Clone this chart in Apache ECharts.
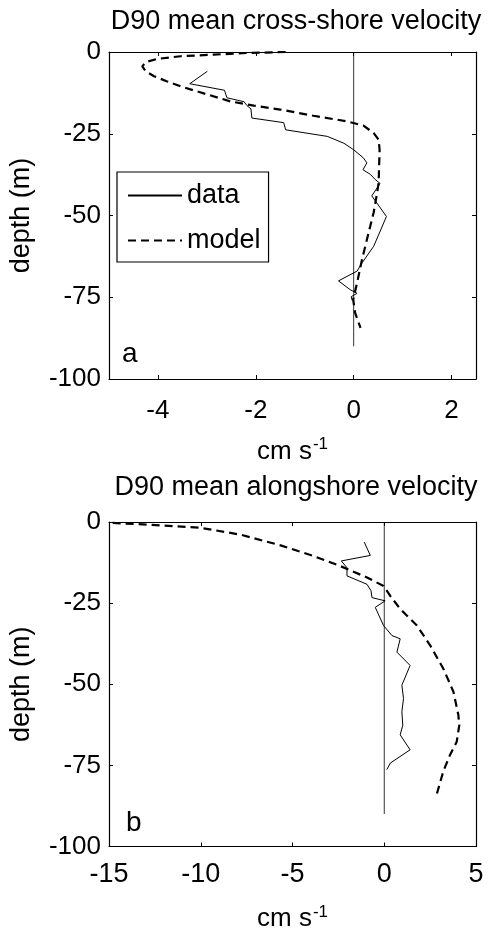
<!DOCTYPE html>
<html>
<head>
<meta charset="utf-8">
<script src="https://cdn.jsdelivr.net/npm/echarts@6/dist/echarts.min.js"></script>
<style>
html,body{margin:0;padding:0;background:#fff;}
#c{width:489px;height:933px;}
</style>
</head>
<body>
<div id="c"></div>
<script>
// ---- Panel a: cross-shore velocity ----
var crossDataVel   = [-2.99,-3.35,-2.64,-2.59,-2.24,-2.18,-2.1,-2.08,-1.43,-1.39,-0.54,-0.2,0,0.2,0.27,0.19,0.34,0.44,0.54,0.37,0.67,0.41,0.17,0.07,-0.31,-0.07,0.07,-0.05,-0.03];
var crossDataDepth = [-5.9,-9.7,-11.7,-14,-15.2,-16.4,-17.4,-20.2,-21.6,-23.8,-25.8,-27.9,-29.9,-32.4,-33.9,-36,-37.4,-39,-40.2,-44,-50.3,-59.4,-64.5,-67,-70,-72.7,-73.8,-74.8,-76];
var crossModelVel   = [-1.39,-2.18,-2.86,-3.54,-4.01,-4.25,-4.32,-4.25,-4.08,-3.81,-3.54,-2.99,-2.52,-2.04,-1.5,-0.82,-0.14,0.2,0.41,0.51,0.53,0.51,0.48,0.41,0.31,0.17,0.07,-0.01,0.03,0.14];
var crossModelDepth = [0,-0.3,-0.8,-1.3,-2.1,-3.1,-4.4,-5.9,-7.4,-9.0,-10.5,-13,-15.1,-16.4,-17.6,-19.5,-21.2,-22.5,-24.8,-26.8,-29.9,-40,-43,-49,-55,-63.5,-70.6,-75.7,-79.8,-84.4];

// ---- Panel b: alongshore velocity ----
var alongDataVel   = [-1.09,-0.76,-2.34,-2.03,-2.03,-0.94,-0.72,-0.67,0.05,-0.49,-0.04,0.42,0.87,0.69,1.41,0.96,1.05,0.96,1.01,0.87,1.41,0.33,0.14];
var alongDataDepth = [-6.2,-10.3,-12,-14.1,-16.6,-19.2,-21.2,-23.3,-24.3,-26.3,-31.9,-35,-36,-40.1,-44.2,-50.3,-54.4,-58.5,-62.6,-65.6,-70.2,-74.3,-76.3];
var alongModelVel   = [-14.8,-12.9,-10,-7.83,-5.65,-3.84,-2.39,-0.94,-0.04,0.33,0.87,1.78,2.5,3.22,3.77,4.04,4.09,3.95,3.59,3.22,2.83];
var alongModelDepth = [-0.3,-0.8,-1.8,-3.9,-7.2,-10.5,-13.6,-17.1,-19.7,-22.8,-26.8,-31.9,-38,-45.2,-52.3,-59.5,-62.6,-67.7,-71.7,-76.8,-84.5];

var zeroLineVel = [0, 0];
var zeroLineDepth = [0, -90];

var crossTicks = [-4, -2, 0, 2];

var titles = ['D90 mean cross-shore velocity', 'D90 mean alongshore velocity'];
var panelLetters = ['a', 'b'];
var xLabel = 'cm s';
var yLabel = 'depth (m)';

function pairs(xs, ys){ return xs.map(function(v,i){ return [v, ys[i]]; }); }

var FONT = 'Liberation Sans, Arial, Helvetica, sans-serif';

var grids = [
  {left:108, top:52, width:368, height:327},
  {left:108, top:522, width:368, height:327}
];

function xAxes(gi, min, max, interval, custom, labelSize, labelMargin, nameGap){
  var base = {
    gridIndex: gi, type:'value', min:min, max:max,
    splitLine:{show:false},
    axisLine:{show:true, onZero:false, lineStyle:{color:'#000', width:1.2}},
    axisTick:{show:true, inside:true, length:4, lineStyle:{color:'#000'}}
  };
  if (interval) base.interval = interval;
  if (custom) base.axisTick.customValues = custom;
  var bottom = echarts.util.merge(echarts.util.clone(base), {
    position:'bottom',
    axisLabel:{show:true, margin:labelMargin, fontSize:labelSize, color:'#000', fontFamily:FONT},
    name: xLabel + '{sup|-1}', nameLocation:'middle', nameGap:nameGap,
    nameTextStyle:{fontSize:26, color:'#000', fontFamily:FONT, rich:{sup:{fontSize:17, color:'#000', fontFamily:FONT, verticalAlign:'top', padding:[0,0,14,1]}}}
  });
  if (custom) bottom.axisLabel.customValues = custom;
  var top = echarts.util.merge(echarts.util.clone(base), {position:'top', axisLabel:{show:false}});
  return [bottom, top];
}
function yAxes(gi){
  var base = {
    gridIndex: gi, type:'value', min:-100, max:0, interval:25,
    splitLine:{show:false},
    axisLine:{show:true, onZero:false, lineStyle:{color:'#000', width:1.2}},
    axisTick:{show:true, inside:true, length:4, lineStyle:{color:'#000'}}
  };
  var left = echarts.util.merge(echarts.util.clone(base), {
    position:'left',
    axisLabel:{show:true, margin:8, fontSize:26, color:'#000', fontFamily:FONT},
    name: yLabel, nameLocation:'middle', nameGap:74,
    nameTextStyle:{fontSize:27, color:'#000', fontFamily:FONT}
  });
  var right = echarts.util.merge(echarts.util.clone(base), {position:'right', axisLabel:{show:false}});
  return [left, right];
}

var xa = [].concat(xAxes(0, -5, 2.5, null, crossTicks, 26, 19, 57), xAxes(1, -15, 5, 5, null, 27, 15, 57));
var ya = [].concat(yAxes(0), yAxes(1));

var solid = {color:'#000', width:1, type:'solid'};
var dashed = {color:'#000', width:2.2, type:[8,5]};

function ser(name, xi, yi, data, ls){
  return {name:name, type:'line', xAxisIndex:xi, yAxisIndex:yi, data:data,
    showSymbol:false, symbol:'none', lineStyle:ls, itemStyle:{color:'#000'},
    animation:false, silent:true, z: 3};
}

var series = [
  ser('data', 0, 0, pairs(crossDataVel, crossDataDepth), solid),
  ser('model', 0, 0, pairs(crossModelVel, crossModelDepth), dashed),
  ser('zero', 0, 0, pairs(zeroLineVel, zeroLineDepth), {color:'#000', width:0.8}),
  ser('data', 2, 2, pairs(alongDataVel, alongDataDepth), solid),
  ser('model', 2, 2, pairs(alongModelVel, alongModelDepth), dashed),
  ser('zero', 2, 2, pairs(zeroLineVel, zeroLineDepth), {color:'#000', width:0.8})
];

var chart = echarts.init(document.getElementById('c'), null, {renderer:'canvas'});
chart.setOption({
  backgroundColor:'#fff',
  animation:false,
  title:[
    {text:titles[0], left:291, top:3, textAlign:'center', textStyle:{fontSize:27, fontWeight:'normal', color:'#000', fontFamily:FONT}},
    {text:titles[1], left:291, top:469, textAlign:'center', textStyle:{fontSize:27, fontWeight:'normal', color:'#000', fontFamily:FONT}},
    {text:panelLetters[0], left:117, top:335, textStyle:{fontSize:28, fontWeight:'normal', color:'#000', fontFamily:FONT}},
    {text:panelLetters[1], left:121, top:804, textStyle:{fontSize:28, fontWeight:'normal', color:'#000', fontFamily:FONT}}
  ],
  legend:{
    data:['data','model'], orient:'vertical', left:117, top:172,
    backgroundColor:'#fff', borderColor:'#000', borderWidth:1.2,
    padding:[10,8,8,10], itemGap:18, itemWidth:54, itemHeight:27,
    itemStyle:{opacity:0, borderWidth:0},
    textStyle:{fontSize:27, color:'#000', fontFamily:FONT, padding:[0,0,0,0]},
    selectedMode:false
  },
  grid:grids,
  xAxis:xa,
  yAxis:ya,
  series:series
});
</script>
</body>
</html>
